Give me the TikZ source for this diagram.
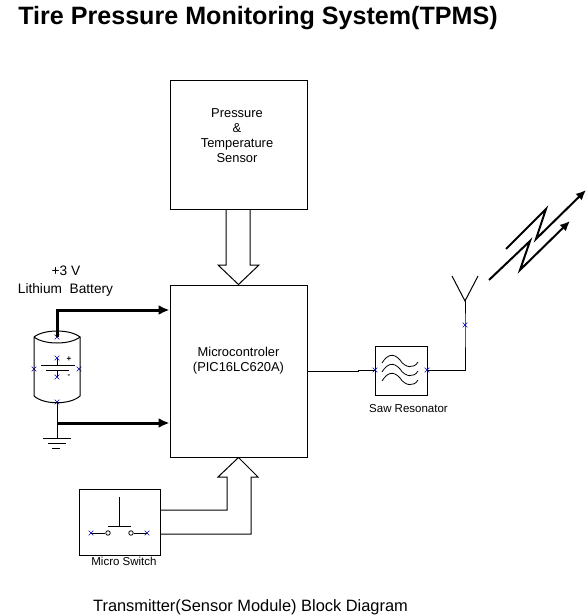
\documentclass[tikz,border=0pt]{standalone}
\usepackage{fontspec}
\setmainfont{Liberation Sans}
\usetikzlibrary{shapes.misc,arrows.meta}
\tikzset{
	block/.style={draw,line width=1pt,inner sep=0pt},
	wire/.style={line width=1pt},
	buswire/.style={line width=3pt,-{Latex[length=11pt,width=10pt]}},
	radiowave/.style={line width=2pt,line join=miter,-{Latex[length=10pt,width=9pt]}},
	xmark/.style={cross out,draw=blue!70!black,line width=0.6pt,inner sep=0pt,minimum size=4pt},
	lbl/.style={inner sep=0pt,align=center,font=\fontsize{12.9}{15}\selectfont},
	small/.style={inner sep=0pt,font=\fontsize{11.5}{12}\selectfont},
}
\begin{document}
\begin{tikzpicture}[x=1pt,y=-1pt]
	\useasboundingbox (0,0) rectangle (588,616);
	\node[inner sep=0pt,font=\bfseries\fontsize{25.1}{27}\selectfont] (title) at (258,18) {Tire Pressure Monitoring System(TPMS)};
	\node[block,minimum width=137pt,minimum height=129pt] (sensor) at (238.5,144.5) {};
	\node[lbl] (sensortext) at (237,136) {Pressure\\[0pt]\&\\[0pt]Temperature\\[0pt]Sensor};
	\node[block,minimum width=137pt,minimum height=172pt] (micro) at (238.5,371) {};
	\node[lbl] (microtext) at (238.5,360.5) {Microcontroler\\(PIC16LC620A)};
	\node[block,minimum width=52pt,minimum height=49pt] (saw) at (401,370.5) {};
	\node[block,minimum width=81pt,minimum height=66pt] (switch) at (119.5,522) {};
	\node[small] (sawtext) at (408.5,409) {Saw Resonator};
	\node[small] (switchtext) at (124,561.5) {Micro Switch};
	\node[lbl,font=\fontsize{13.7}{18}\selectfont] (battext) at (65.5,281) {\hspace*{1pt}+3 V\\Lithium\ \ Battery};
	\node[inner sep=0pt,font=\fontsize{16.4}{18}\selectfont] (caption) at (250.5,607) {Transmitter(Sensor Module) Block Diagram};
	\foreach \n/\p in {battop/{57,337},batbot/{57,402},batl/{34,369},batr/{79,369},cella/{57,358},cellb/{57,377},swl/{91,533},swr/{147,533},sawl/{375,370},sawr/{427,370},ant/{465,325}}
		\node[xmark] (\n) at (\p) {};
	% sensor and switch buses
	\draw[wire] (sensor.south -| 226,0) -- (226,265) -- (218,265) -- (micro.north) -- (259,265) -- (250,265) -- (sensor.south -| 250,0);
	\draw[wire] (switch.east |- 0,510) -- (227,510) -- (227,477) -- (218,477) -- (micro.south) -- (258,477) -- (251,477) -- (251,534) -- (switch.east |- 0,534);
	% battery
	\draw[wire] (34,337) .. controls (44,329) and (70,329) .. (80,337) .. controls (70,345) and (44,345) .. (34,337);
	\draw[wire] (34,337) -- (34,396) .. controls (44,405) and (70,405) .. (80,396) -- (80,337);
	\draw[wire] (41,365) -- (75,365) (46,370) -- (69,370) (cella.center) -- (57,365) (cellb.center) -- (57,370);
	\node[inner sep=0pt,font=\bfseries\fontsize{8}{8}\selectfont] (plus) at (69,359) {+};
	\node[inner sep=0pt,font=\bfseries\fontsize{8}{8}\selectfont] (minus) at (69,376) {-};
	\draw[buswire] (battop.center) -- (57,310) -- (micro.west |- 0,310);
	\coordinate (gnd) at (57,438);
	\draw[wire] (batbot.center) -- (gnd);
	\draw[buswire] (57,423) -- (micro.west |- 0,423);
	\draw[wire] (43,438) -- (71,438) (48,443) -- (66,443) (52,448) -- (60,448);
	% switch
	\draw[wire] (119,497) -- (119,526) (108,526) -- (131,526);
	\node[draw,circle,line width=0.8pt,inner sep=0pt,minimum size=4.5pt] (conl) at (108,533) {};
	\node[draw,circle,line width=0.8pt,inner sep=0pt,minimum size=4.5pt] (conr) at (131,533) {};
	\draw[wire] (swl.center) -- (conl) (conr) -- (swr.center);
	% saw filter and antenna
	\draw[wire] (micro.east |- 0,371) -- (358,371) -- (358,370) -- (sawl.center);
	\foreach \y in {0,9,18}
		\draw[line width=0.8pt] (382,363+\y) .. controls (387,355+\y) and (393,352+\y) .. (400,360+\y) .. controls (405,368+\y) and (414,369+\y) .. (418,362+\y);
	\coordinate (antroot) at (465,301);
	\draw[wire] (sawr.center) -- (465,370) -- (ant.center) -- (antroot);
	\draw[wire] (452,276) -- (antroot) -- (478,276);
	% radio waves
	\draw[radiowave] (506,249) -- (546,209) -- (536,239) -- (586,190);
	\draw[radiowave] (489,280) -- (530,241) -- (520,270) -- (570,221);
\end{tikzpicture}
\end{document}
